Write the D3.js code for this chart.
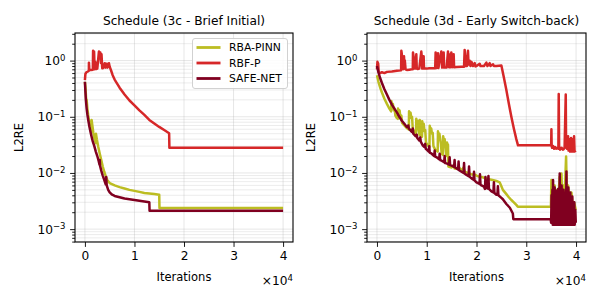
<!DOCTYPE html>
<html><head><meta charset="utf-8">
<script src="https://cdn.jsdelivr.net/npm/d3@7"></script>
<style>body{margin:0;background:#fff} svg{display:block} text{font-family:"DejaVu Sans",sans-serif;fill:#000}</style>
</head><body><svg id="c" width="600" height="300"></svg>
<script>
// ---------- data ----------
const titles = ["Schedule (3c - Brief Initial)", "Schedule (3d - Early Switch-back)"];
const seriesNames = ["RBA-PINN", "RBF-P", "SAFE-NET"];
const seriesColors = ["#bcbd22", "#d62728", "#800020"];
const xTicks = [0, 10000, 20000, 30000, 40000];
const xTickLabels = ["0", "1", "2", "3", "4"];
const yMajor = [1e-3, 1e-2, 1e-1, 1];
const yExp = ["\u22123", "\u22122", "\u22121", "0"];

// Panel 3c
const rba3c = [[0,0.42],[150,0.3],[250,0.2],[350,0.2],[500,0.14],[700,0.1],[900,0.078],[1300,0.056],[1350,0.088],[1500,0.07],[1700,0.052],[1900,0.042],[2200,0.034],[2230,0.05],[2400,0.04],[2700,0.029],[3000,0.022],[3300,0.017],[3600,0.013],[3900,0.0105],[4200,0.0088],[4500,0.0075],[5000,0.0066],[6000,0.006],[7000,0.0056],[8000,0.0053],[9000,0.005],[10000,0.0048],[11000,0.0046],[12000,0.0044],[13000,0.0043],[14000,0.0042],[15000,0.0041],[15050,0.00237],[40000,0.00237]];
const rbf3c = [[0,0.45],[100,0.58],[300,0.62],[600,0.64],[800,0.66],[810,0.92],[900,0.68],[1200,0.68],[1600,0.69],[1650,1.49],[1750,1.0],[1850,1.45],[1960,0.7],[2100,0.95],[2300,0.71],[2500,0.72],[2830,1.45],[2950,1.1],[3100,1.4],[3250,0.9],[3350,1.3],[3500,0.73],[3700,0.74],[4000,0.9],[4150,0.75],[4400,0.88],[4550,0.75],[4850,0.9],[5000,0.78],[5300,0.66],[5600,0.55],[6000,0.46],[6500,0.39],[7000,0.33],[8000,0.25],[9000,0.195],[10000,0.16],[11000,0.13],[12000,0.108],[13000,0.088],[14000,0.076],[15000,0.066],[16000,0.058],[17000,0.051],[17050,0.028],[40000,0.028]];
const safe3c = [[0,0.42],[100,0.28],[200,0.2],[350,0.14],[500,0.11],[700,0.085],[900,0.067],[1100,0.055],[1300,0.046],[1600,0.036],[1900,0.03],[2200,0.024],[2500,0.02],[2800,0.016],[2950,0.014],[3000,0.017],[3050,0.0135],[3300,0.011],[3600,0.009],[3900,0.0075],[4200,0.0063],[4300,0.0085],[4400,0.006],[4700,0.005],[5000,0.0045],[5500,0.0041],[6000,0.0039],[7000,0.0037],[8000,0.0035],[9000,0.0034],[10000,0.0033],[11000,0.0032],[12000,0.0031],[13000,0.003],[13050,0.00212],[40000,0.00212]];

// Panel 3d
const rba3d = [[0,0.55],[300,0.42],[700,0.32],[1000,0.27],[1500,0.21],[2000,0.17],[2500,0.14],[2850,0.125],[2900,0.19],[3050,0.16],[3200,0.17],[3400,0.13],[3550,0.14],[3700,0.105],[4000,0.095],[4200,0.092],[4230,0.14],[4400,0.12],[4550,0.13],[4700,0.1],[4900,0.105],[5050,0.078],[5500,0.07],[6000,0.063],[6400,0.059],[6450,0.125],[6600,0.11],[6750,0.118],[6900,0.095],[7050,0.1],[7200,0.06],[7600,0.053],[7850,0.05],[7900,0.092],[8050,0.08],[8200,0.085],[8350,0.06],[8550,0.048],[8600,0.088],[8750,0.07],[8900,0.046],[9050,0.044],[9100,0.083],[9250,0.07],[9400,0.075],[9550,0.055],[9700,0.058],[9850,0.035],[10200,0.031],[10550,0.029],[10600,0.069],[10750,0.058],[10900,0.062],[11050,0.05],[11200,0.052],[11350,0.03],[11700,0.026],[12200,0.024],[12260,0.055],[12400,0.047],[12550,0.05],[12700,0.04],[12850,0.033],[13000,0.022],[13250,0.021],[13300,0.045],[13450,0.038],[13600,0.04],[13750,0.03],[13900,0.022],[14000,0.02],[14070,0.035],[14200,0.03],[14270,0.032],[14350,0.013],[15000,0.0125],[15500,0.014],[15600,0.012],[16000,0.012],[16500,0.0125],[17000,0.011],[17400,0.0125],[17600,0.0105],[18000,0.0102],[18500,0.0098],[19000,0.0094],[19500,0.0095],[20000,0.009],[20500,0.0086],[21000,0.0085],[21500,0.0082],[22000,0.0079],[23000,0.0076],[24000,0.0072],[24650,0.0068],[25000,0.0058],[25300,0.005],[26000,0.0042],[26500,0.0037],[27000,0.0033],[27500,0.003],[28000,0.0027],[28300,0.0025],[34950,0.0025],[35050,0.0075],[35150,0.003],[35300,0.0065],[35500,0.0035],[35700,0.006],[35900,0.003],[36200,0.005],[36500,0.004],[36700,0.0085],[36800,0.0035],[37060,0.0098],[37200,0.004],[37500,0.006],[37700,0.0035],[38000,0.0196],[38150,0.004],[38400,0.006],[38700,0.0035],[39070,0.0045],[39300,0.0028],[39600,0.003],[39950,0.0022]];
const rbf3d = [[0,0.7],[100,0.95],[250,0.88],[350,0.62],[600,0.6],[1000,0.62],[1500,0.6],[2000,0.63],[3000,0.64],[4000,0.66],[4850,0.67],[4900,1.5],[5000,1.3],[5100,0.72],[5200,1.05],[5300,0.7],[5430,1.2],[5500,0.9],[5600,1.0],[5750,0.7],[6000,0.68],[6500,0.69],[7000,0.7],[7200,0.7],[7240,1.4],[7400,1.1],[7500,0.72],[7600,1.0],[7700,0.72],[7910,1.3],[8000,0.72],[8200,0.71],[8500,0.72],[8910,1.45],[9000,1.2],[9100,0.72],[9200,1.0],[9380,1.2],[9450,0.72],[10000,0.72],[10500,0.73],[11000,0.73],[11700,0.73],[11790,1.4],[11900,1.1],[12000,0.74],[12100,1.2],[12260,1.35],[12350,0.74],[12930,1.45],[13000,1.2],[13100,0.75],[13200,1.0],[13400,1.4],[13500,0.75],[14000,0.75],[14270,1.45],[14400,1.1],[14500,0.76],[14700,1.3],[14800,0.76],[14940,1.4],[15000,1.0],[15100,0.76],[15410,1.3],[15500,0.76],[16000,0.77],[17000,0.78],[17500,0.78],[17620,1.55],[17700,1.3],[17800,0.8],[17950,1.2],[18100,0.8],[18290,1.5],[18400,0.85],[18630,1.0],[18800,0.8],[19000,0.95],[19300,0.8],[19630,0.9],[19800,0.79],[20000,0.8],[20640,0.88],[20800,0.8],[21500,0.8],[21980,0.92],[22200,0.8],[22650,0.9],[22800,0.8],[23320,0.86],[23500,0.8],[24000,0.8],[25000,0.82],[25500,0.5],[26000,0.3],[26500,0.17],[27000,0.1],[27500,0.062],[28000,0.04],[28340,0.031],[34850,0.031],[35000,0.031],[35050,0.06],[35100,0.03],[35200,0.028],[35400,0.03],[35600,0.027],[35800,0.029],[36000,0.027],[36300,0.028],[36450,0.027],[36520,0.255],[36600,0.03],[36800,0.026],[37100,0.028],[37400,0.026],[37700,0.028],[37930,0.25],[38000,0.03],[38200,0.027],[38400,0.045],[38500,0.025],[38700,0.04],[38800,0.024],[39000,0.042],[39100,0.024],[39300,0.04],[39400,0.024],[39600,0.045],[39700,0.024],[39950,0.025]];
const safe3d = [[0,0.8],[300,0.62],[600,0.5],[1000,0.4],[1500,0.31],[2000,0.25],[2500,0.2],[3000,0.165],[3500,0.14],[4000,0.12],[4500,0.1],[5000,0.085],[5500,0.075],[6000,0.066],[6300,0.07],[6400,0.062],[7000,0.054],[7200,0.062],[7300,0.05],[7800,0.045],[8000,0.048],[8100,0.042],[8500,0.038],[8700,0.043],[8800,0.036],[9200,0.031],[9500,0.029],[9700,0.033],[9800,0.027],[10000,0.026],[10400,0.024],[10500,0.03],[10600,0.023],[11000,0.022],[11500,0.02],[11600,0.025],[11700,0.0195],[12000,0.019],[12500,0.0175],[12600,0.022],[12700,0.017],[13000,0.0165],[13500,0.0155],[13600,0.02],[13700,0.015],[14000,0.0148],[14500,0.014],[14600,0.019],[14700,0.0138],[15000,0.0135],[15500,0.0128],[15600,0.017],[15700,0.0125],[16000,0.012],[16300,0.0115],[16400,0.016],[16500,0.0112],[17000,0.0105],[17400,0.01],[17500,0.015],[17600,0.0098],[18000,0.0092],[18400,0.0088],[18500,0.013],[18600,0.0086],[19000,0.008],[19400,0.0076],[19500,0.0105],[19600,0.0074],[20000,0.0068],[20600,0.0064],[20700,0.0095],[20800,0.0062],[21000,0.006],[21500,0.0057],[21700,0.0052],[21800,0.0085],[21900,0.0055],[22200,0.0053],[22400,0.0088],[22500,0.0052],[23000,0.0047],[23400,0.0045],[23500,0.0068],[23600,0.0044],[24000,0.0041],[24200,0.0041],[24300,0.0058],[24400,0.004],[25000,0.0036],[25300,0.0034],[26000,0.0028],[26700,0.0024],[27300,0.0019],[27400,0.0015],[34900,0.0015],[35000,0.0013],[35080,0.004],[35150,0.0013],[35250,0.005],[35320,0.0012],[35380,0.0075],[35450,0.0013],[35550,0.0042],[35620,0.0012],[35700,0.0055],[35780,0.0012],[35880,0.0038],[35950,0.0012],[36050,0.0048],[36120,0.0012],[36220,0.0035],[36300,0.0012],[36400,0.0052],[36480,0.0012],[36580,0.004],[36650,0.0012],[36720,0.0098],[36800,0.0012],[36900,0.0045],[36980,0.0012],[37100,0.006],[37180,0.0012],[37300,0.0038],[37380,0.0012],[37500,0.005],[37580,0.0012],[37700,0.0036],[37780,0.0012],[37900,0.0045],[37980,0.0012],[38070,0.0106],[38150,0.0012],[38250,0.0042],[38330,0.0012],[38450,0.0055],[38530,0.0012],[38650,0.0035],[38730,0.0012],[38850,0.0045],[38930,0.0012],[39050,0.0032],[39130,0.0012],[39250,0.0038],[39330,0.0012],[39450,0.0025],[39530,0.0012],[39650,0.003],[39730,0.0012],[39850,0.0022],[39950,0.0013]];

const panelSeries = [[rba3c, rbf3c, safe3c], [rba3d, rbf3d, safe3d]];

// ---------- layout ----------
const svg = d3.select("#c");
const panelBoxes = [{l:75, r:293, t:33, b:242}, {l:367, r:586, t:33, b:242}];
const xDomain = [-2000, 42000];
const yDomain = [5.9e-4, 3.1];
const FONT = 12.2;

const minorVals = [];
for (let e = -4; e <= 0; e++) for (let k = 2; k <= 9; k++) {
  const v = k * Math.pow(10, e);
  if (v >= yDomain[0] && v <= yDomain[1]) minorVals.push(v);
}

panelBoxes.forEach((bx, pi) => {
  const x = d3.scaleLinear().domain(xDomain).range([bx.l, bx.r]);
  const y = d3.scaleLog().domain(yDomain).range([bx.b, bx.t]);
  const g = svg.append("g");

  // grid
  const grid = g.append("g");
  grid.selectAll(".gm").data(minorVals).join("line")
    .attr("x1", bx.l).attr("x2", bx.r).attr("y1", d => y(d)).attr("y2", d => y(d))
    .attr("stroke", "#b0b0b0").attr("stroke-opacity", 0.3).attr("stroke-width", 0.8);
  grid.selectAll(".gy").data(yMajor).join("line")
    .attr("x1", bx.l).attr("x2", bx.r).attr("y1", d => y(d)).attr("y2", d => y(d))
    .attr("stroke", "#b0b0b0").attr("stroke-opacity", 0.4).attr("stroke-width", 0.8);
  grid.selectAll(".gx").data(xTicks).join("line")
    .attr("y1", bx.t).attr("y2", bx.b).attr("x1", d => x(d)).attr("x2", d => x(d))
    .attr("stroke", "#b0b0b0").attr("stroke-opacity", 0.4).attr("stroke-width", 0.8);

  // clip
  const cid = "clip" + pi;
  svg.append("clipPath").attr("id", cid).append("rect")
    .attr("x", bx.l).attr("y", bx.t).attr("width", bx.r - bx.l).attr("height", bx.b - bx.t);

  const line = d3.line().x(d => x(d[0])).y(d => y(d[1]));
  const lg = g.append("g").attr("clip-path", `url(#${cid})`);
  panelSeries[pi].forEach((s, si) => {
    lg.append("path").datum(s).attr("d", line)
      .attr("fill", "none").attr("stroke", seriesColors[si])
      .attr("stroke-width", 2.5).attr("stroke-linejoin", "round");
  });

  // axes
  const xa = g.append("g").attr("transform", `translate(0,${bx.b})`)
    .call(d3.axisBottom(x).tickValues(xTicks).tickFormat((d, i) => xTickLabels[i]).tickSize(4.9).tickPadding(4));
  const ya = g.append("g").attr("transform", `translate(${bx.l},0)`)
    .call(d3.axisLeft(y).tickValues(yMajor).tickFormat(() => "").tickSize(4.9).tickPadding(4));
  const ym = g.append("g").attr("transform", `translate(${bx.l},0)`)
    .call(d3.axisLeft(y).tickValues(minorVals).tickFormat(() => "").tickSize(2.8));
  [xa, ya, ym].forEach(a => {
    a.select(".domain").remove();
    a.selectAll("line").attr("stroke", "#000").attr("stroke-width", 0.9);
    a.selectAll("text").attr("font-family", "DejaVu Sans").attr("font-size", FONT).attr("fill", "#000");
  });
  xa.selectAll(".tick text").attr("dy", "0.71em");
  ya.selectAll(".tick").each(function(d, i) {
    const t = d3.select(this).select("text");
    t.text(null).attr("dy", "0.32em").attr("x", -9.5);
    t.append("tspan").text("10");
    t.append("tspan").attr("dy", "-0.5em").attr("font-size", "0.7em").text(yExp[i]);
  });

  // frame
  g.append("rect").attr("x", bx.l).attr("y", bx.t).attr("width", bx.r - bx.l).attr("height", bx.b - bx.t)
    .attr("fill", "none").attr("stroke", "#000").attr("stroke-width", 1.1);

  // title
  g.append("text").attr("x", (bx.l + bx.r) / 2).attr("y", 24.5).attr("text-anchor", "middle")
    .attr("font-size", FONT).text(titles[pi]);
  // x label
  g.append("text").attr("x", (bx.l + bx.r) / 2).attr("y", 281).attr("text-anchor", "middle")
    .attr("font-size", 11.5).text("Iterations");
  // offset text
  const ot = g.append("text").attr("x", bx.r).attr("y", 285).attr("text-anchor", "end").attr("font-size", FONT);
  ot.append("tspan").text("\u00d710");
  ot.append("tspan").attr("dy", "-0.5em").attr("font-size", "0.7em").text("4");
  // y label
  g.append("text").attr("transform", `translate(${bx.l - 52},${(bx.t + bx.b) / 2}) rotate(-90)`)
    .attr("text-anchor", "middle").attr("font-size", 11.5).text("L2RE");
});

// legend (left panel)
const leg = svg.append("g");
leg.append("rect").attr("x", 192.5).attr("y", 38.5).attr("width", 95).attr("height", 50).attr("rx", 2.5)
  .attr("fill", "#fff").attr("fill-opacity", 0.85).attr("stroke", "#cccccc").attr("stroke-width", 0.9);
seriesNames.forEach((n, i) => {
  const yy = 47.5 + i * 15.5;
  leg.append("line").attr("x1", 196.5).attr("x2", 220.5).attr("y1", yy).attr("y2", yy)
    .attr("stroke", seriesColors[i]).attr("stroke-width", 2.8);
  leg.append("text").attr("x", 229).attr("y", yy + 3.8).attr("font-size", 10.8).text(n);
});
</script></body></html>
